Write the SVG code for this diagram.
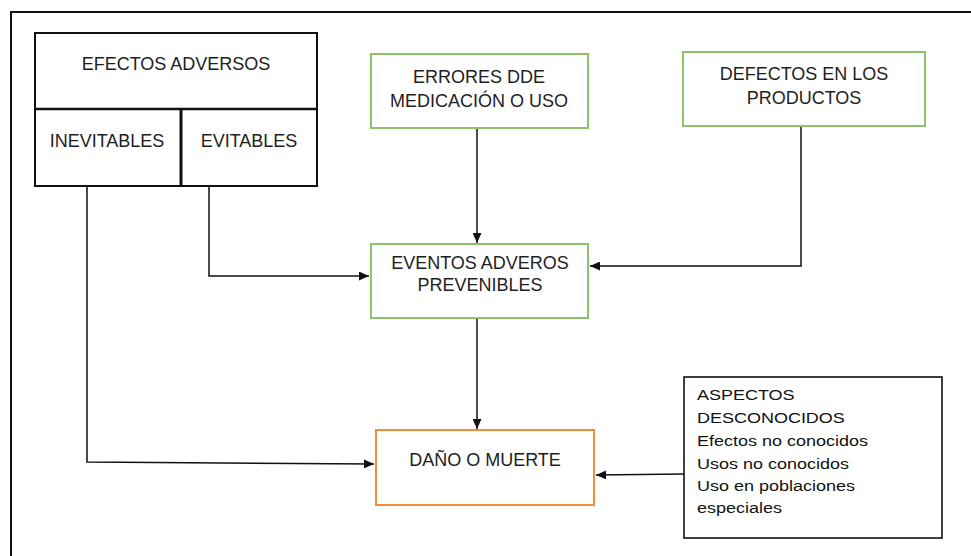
<svg xmlns="http://www.w3.org/2000/svg" width="971" height="556" viewBox="0 0 971 556">
<defs>
<style>
.t{font-family:"Liberation Sans",Arial,sans-serif;font-size:18px;fill:#1e1e1e;text-anchor:middle}
.a{font-family:"Liberation Sans",Arial,sans-serif;font-size:15px;fill:#111}
.g{fill:#fff;stroke:#8cc26c;stroke-width:2}
.o{fill:#fff;stroke:#f28b3c;stroke-width:2}
.k{fill:#fff;stroke:#111;stroke-width:2}
.c{fill:none;stroke:#111;stroke-width:1.5}
</style>
<marker id="ar" markerUnits="userSpaceOnUse" markerWidth="10" markerHeight="9" refX="10" refY="4.5" orient="auto">
<path d="M0,0 L10,4.5 L0,9 z" fill="#111"/>
</marker>
</defs>
<rect width="971" height="556" fill="#fff"/>
<path d="M11,560 V12 H975" fill="none" stroke="#111" stroke-width="2"/>

<g id="connectors">
<path class="c" d="M477,128 V243" marker-end="url(#ar)"/>
<path class="c" d="M801,127 V266 H590" marker-end="url(#ar)"/>
<path class="c" d="M209,186 V276 H369" marker-end="url(#ar)"/>
<path class="c" d="M87,186 V462 L374,464" marker-end="url(#ar)"/>
<path class="c" d="M477,318 V429" marker-end="url(#ar)"/>
<path class="c" d="M684,474 L596,475" marker-end="url(#ar)"/>
</g>

<g id="efectos-adversos">
<rect class="k" x="35" y="33" width="282" height="153"/>
<line x1="35" y1="109" x2="317" y2="109" stroke="#111" stroke-width="2.5"/>
<line x1="181" y1="109" x2="181" y2="186" stroke="#111" stroke-width="3"/>
<text class="t" x="176" y="70">EFECTOS ADVERSOS</text>
<text class="t" x="107" y="147">INEVITABLES</text>
<text class="t" x="249" y="147">EVITABLES</text>
</g>

<g id="errores">
<rect class="g" x="371" y="54" width="217" height="74"/>
<text class="t" x="479" y="83">ERRORES DDE</text>
<text class="t" x="479" y="107">MEDICACIÓN O USO</text>
</g>

<g id="defectos">
<rect class="g" x="683" y="52" width="242" height="74"/>
<text class="t" x="804" y="80">DEFECTOS EN LOS</text>
<text class="t" x="804" y="104">PRODUCTOS</text>
</g>

<g id="eventos">
<rect class="g" x="371" y="244" width="217" height="74"/>
<text class="t" x="480" y="269">EVENTOS ADVEROS</text>
<text class="t" x="480" y="291">PREVENIBLES</text>
</g>

<g id="dano">
<rect class="o" x="376" y="430" width="218" height="75"/>
<text class="t" x="485" y="466">DAÑO O MUERTE</text>
</g>

<g id="aspectos">
<rect x="684" y="377" width="258" height="161" fill="#fff" stroke="#111" stroke-width="1.6"/>
<g transform="translate(697,0) scale(1.2,1)">
<text class="a" x="0" y="400">ASPECTOS</text>
<text class="a" x="0" y="423">DESCONOCIDOS</text>
<text class="a" x="0" y="446">Efectos no conocidos</text>
<text class="a" x="0" y="469">Usos no conocidos</text>
<text class="a" x="0" y="491">Uso en poblaciones</text>
<text class="a" x="0" y="513">especiales</text>
</g>
</g>
</svg>
